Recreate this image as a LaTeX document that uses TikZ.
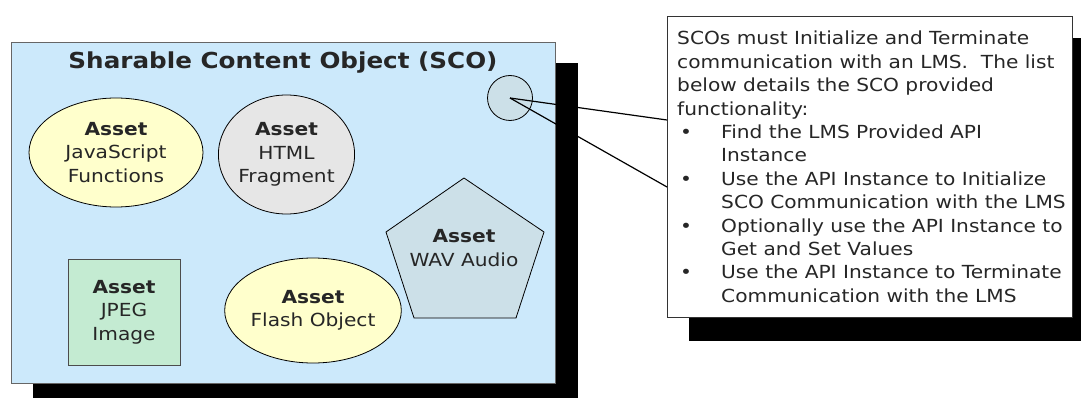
\documentclass[tikz,border=0pt]{standalone}
\usepackage{fontspec}
\setmainfont{DejaVu Sans}[FakeStretch=1.12]
\usetikzlibrary{shapes.geometric}
\definecolor{scoblue}{HTML}{CCE9FB}
\definecolor{assetyellow}{HTML}{FFFFCC}
\definecolor{assetgray}{HTML}{E6E6E6}
\definecolor{assetsteel}{HTML}{CCE0E8}
\definecolor{assetgreen}{HTML}{C4EBD2}
\tikzset{
	asset/.style={draw=black, line width=0.8pt, text=black!85, align=center, inner sep=0pt,
		font=\fontsize{18}{23.4}\selectfont},
	pointer/.style={line width=1.2pt, color=black},
}
\newcommand{\notebullet}{\hspace*{3pt}\makebox[41pt][l]{\textbullet}}
\newcommand{\noteindent}{\hspace*{44pt}}

\begin{document}
\begin{tikzpicture}[x=1pt, y=-1pt]
		%%%%% START %%%%%
		\useasboundingbox (0, 0) rectangle (1081, 398);
		
		\fill[black] (33, 63) rectangle (578, 398);
		\draw[fill=scoblue, draw=black!60, line width=0.6pt] (11, 42) rectangle (555, 383);
		\node[font=\bfseries\fontsize{22}{26}\selectfont, text=black!85] (sco) at (283, 63) {Sharable Content Object (SCO)};
		
		\node[asset, ellipse, fill=assetyellow, minimum width=174pt, minimum height=109pt] (js) at (116, 152.5) {\textbf{Asset}\\JavaScript\\Functions};
		\node[asset, ellipse, fill=assetgray, minimum width=133pt, minimum height=119pt] (html) at (286.5, 154.5) {\textbf{Asset}\\HTML\\Fragment};
		\node[asset, rectangle, fill=assetgreen, draw=black!70, minimum width=112pt, minimum height=106pt] (jpeg) at (124, 312) {\textbf{Asset}\\JPEG\\Image};
		\node[asset, ellipse, fill=assetyellow, minimum width=169pt, minimum height=105pt] (flash) at (313, 310.5) {\textbf{Asset}\\Flash Object};
		
		\draw[fill=assetsteel, line width=0.8pt] (464, 178) -- (544, 232) -- (516, 318) -- (414, 318) -- (386, 232) -- cycle;
		\node[asset, draw=none] (wav) at (464, 248) {\textbf{Asset}\\WAV Audio};
		
		\node[draw=black, fill=assetsteel, line width=0.8pt, circle, minimum size=45pt, inner sep=0pt] (api) at (510, 98) {};
		
		%%%%% CALLOUT %%%%%
		
		\fill[black] (689, 38) rectangle (1081, 341);
		\node[draw=black!80, fill=white, line width=0.6pt, anchor=north west, inner sep=0pt, minimum width=405pt, minimum height=301pt] (note) at (667, 16) {};
		
		\draw[pointer] (api.center) -- (note.west |- 0,120);
		\draw[pointer] (api.center) -- (note.west |- 0,187);
		
		\node[anchor=north west, inner sep=0pt, align=left, text=black!85, font=\fontsize{18}{23.4}\selectfont] (notetext) at (677, 31) {SCOs must Initialize and Terminate\\
			communication with an LMS.\ \ The list\\
			below details the SCO provided\\
			functionality:\\
			\notebullet Find the LMS Provided API\\
			\noteindent Instance\\
			\notebullet Use the API Instance to Initialize\\
			\noteindent SCO Communication with the LMS\\
			\notebullet Optionally use the API Instance to\\
			\noteindent Get and Set Values\\
			\notebullet Use the API Instance to Terminate\\
			\noteindent Communication with the LMS};
		
		%%%%% END %%%%%
	\end{tikzpicture}
\end{document}
